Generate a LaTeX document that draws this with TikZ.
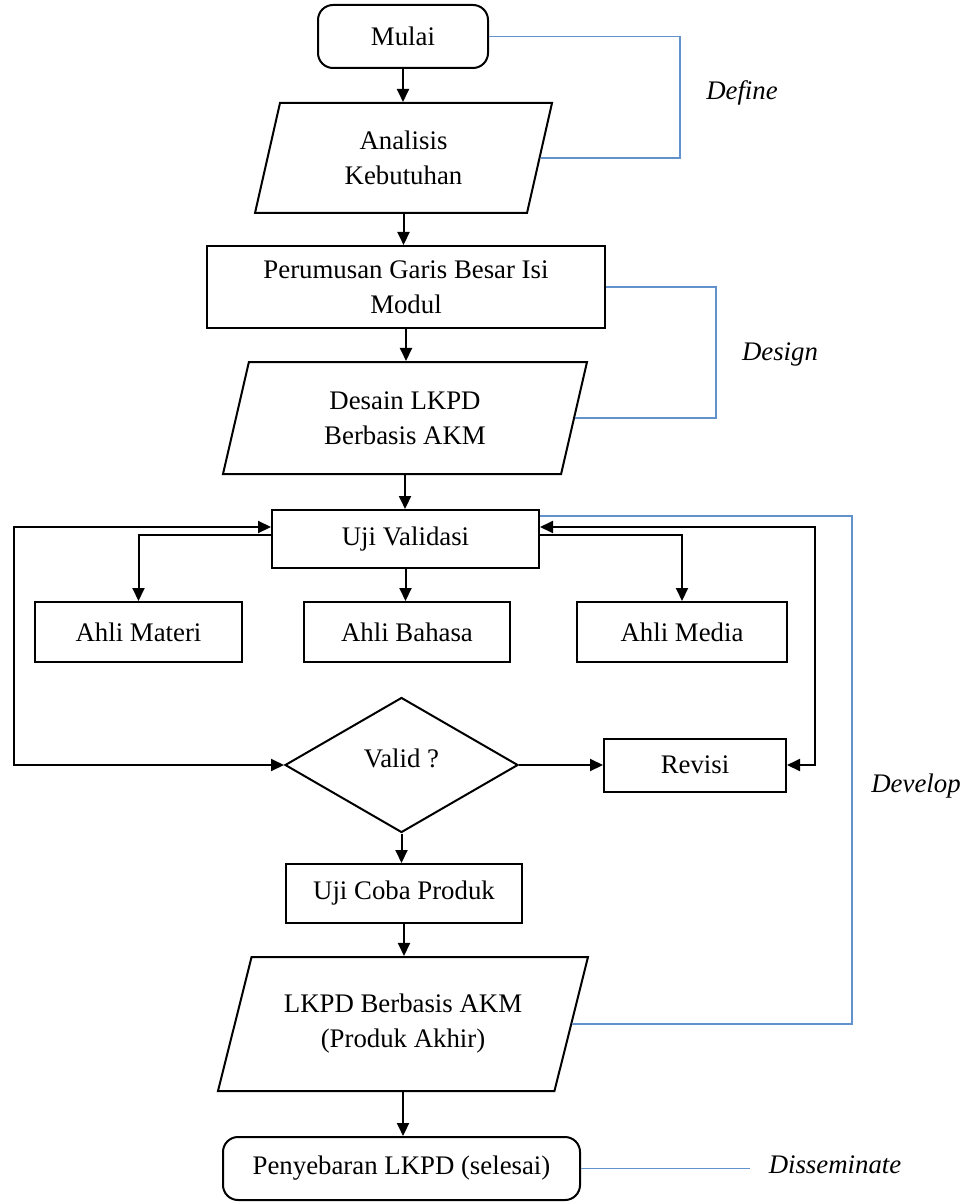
\documentclass[tikz,border=0pt]{standalone}
\usepackage{fontspec}
\setmainfont{Liberation Serif}
\usetikzlibrary{positioning,arrows.meta,shapes.geometric}
\definecolor{phaseblue}{RGB}{98,146,206}
\tikzset{
  flow/.style={-{Triangle[length=6.5pt,width=6pt]},line width=1pt},
  loopln/.style={{Triangle[length=6.5pt,width=6pt]}-{Triangle[length=6.5pt,width=6pt]},line width=1pt},
  termbox/.style={draw,line width=1pt,rounded corners=7.5pt,inner sep=2pt,align=center},
  procbox/.style={draw,line width=1pt,inner sep=2pt,align=center},
  iobox/.style={draw,line width=1pt,trapezium,trapezium stretches body,
    trapezium left angle=68,trapezium right angle=112,inner sep=2pt,align=center},
  decbox/.style={draw,line width=1pt,diamond,inner sep=0pt},
  phase/.style={phaseblue,line width=0.7pt},          % phase bracket
  phaselbl/.style={font=\fontsize{13.4}{17.5}\selectfont\itshape,inner sep=1pt},
}
\begin{document}
\begin{tikzpicture}[x=0.5pt,y=-0.5pt,font=\fontsize{13.4}{17.5}\selectfont]
  \useasboundingbox (0,0) rectangle (966,1203);
  % main column
  \node[termbox,minimum width=85pt,minimum height=31.5pt] (mulai) at (403,36.5) {Mulai};
  \node[iobox,minimum width=148.5pt,minimum height=55pt] (analisis) at (403.5,158) {Analisis\\Kebutuhan};
  \node[procbox,minimum width=199pt,minimum height=41pt] (rumus) at (406,287) {Perumusan Garis Besar Isi\\Modul};
  \node[iobox,trapezium left angle=67,trapezium right angle=113,minimum width=182pt,minimum height=56pt] (desain) at (405,418) {Desain LKPD\\Berbasis AKM};
  \node[procbox,minimum width=133.5pt,minimum height=29pt] (uji) at (405.5,539) {Uji Validasi};
  \node[procbox,minimum width=103.5pt,minimum height=30pt] (materi) at (138.5,632) {Ahli Materi};
  \node[procbox,minimum width=103pt,minimum height=30pt] (bahasa) at (407,632) {Ahli Bahasa};
  \node[procbox,minimum width=105pt,minimum height=30pt] (media) at (682,632) {Ahli Media};
  \node[decbox,minimum width=116.5pt,minimum height=67.5pt] (valid) at (401.5,765) {\raisebox{7pt}{Valid ?}};
  \node[procbox,minimum width=91pt,minimum height=26.5pt] (revisi) at (695,765) {Revisi};
  \node[procbox,minimum width=118pt,minimum height=29.5pt] (coba) at (404,893.5) {Uji Coba Produk};
  \node[iobox,trapezium left angle=63.5,trapezium right angle=116.5,minimum width=185pt,minimum height=67pt] (akhir) at (403,1024) {LKPD Berbasis AKM\\(Produk Akhir)};
  \node[termbox,minimum width=178.5pt,minimum height=31.5pt] (sebar) at (401.5,1168.5) {Penyebaran LKPD (selesai)};

  % phase labels
  \node[phaselbl] (define) at (742,93) {Define};
  \node[phaselbl] (design) at (780,354) {Design};
  \node[phaselbl] (develop) at (916,786) {Develop};
  \node[phaselbl] (dissem) at (835,1165) {Disseminate};

  % flow
  \draw[flow] (mulai.south) -- (mulai.south |- analisis.north);
  \draw[flow] (analisis.south) -- (analisis.south |- rumus.north);
  \draw[flow] (rumus.south) -- (rumus.south |- desain.north);
  \draw[flow] (desain.south) -- (desain.south |- uji.north);
  \draw[flow] ([yshift=2pt]uji.west) -| (materi.north);
  \draw[flow] (uji.south) -- (uji.south |- bahasa.north);
  \draw[flow] ([yshift=2pt]uji.east) -| (media.north);
  \draw[flow] (valid.east) -- (revisi.west);
  \draw[flow] (valid.south) -- (valid.south |- coba.north);
  \draw[flow] (coba.south) -- (coba.south |- akhir.north);
  \draw[flow] (akhir.south) -- (akhir.south |- sebar.north);

  % feedback loops
  \coordinate (lbus) at (14,0);
  \coordinate (rbus) at (815,0);
  \draw[loopln] ([yshift=6pt]uji.west) -| (lbus |- valid.west) -- (valid.west);
  \draw[loopln] ([yshift=6pt]uji.east) -| (rbus |- revisi.east) -- (revisi.east);

  % 4D phase brackets
  \coordinate (defx) at (680,0);
  \coordinate (desx) at (716,0);
  \coordinate (devx) at (852,0);
  \coordinate (disx) at (750,1168.5);
  \draw[phase] (mulai.east) -| (defx |- analisis.east) -- (analisis.east);
  \draw[phase] (rumus.east) -| (desx |- desain.east) -- (desain.east);
  \draw[phase] ([yshift=-3.5pt]uji.north east) -| (devx |- akhir.east) -- (akhir.east);
  \draw[phase] (sebar.east) -- (disx);
\end{tikzpicture}
\end{document}
